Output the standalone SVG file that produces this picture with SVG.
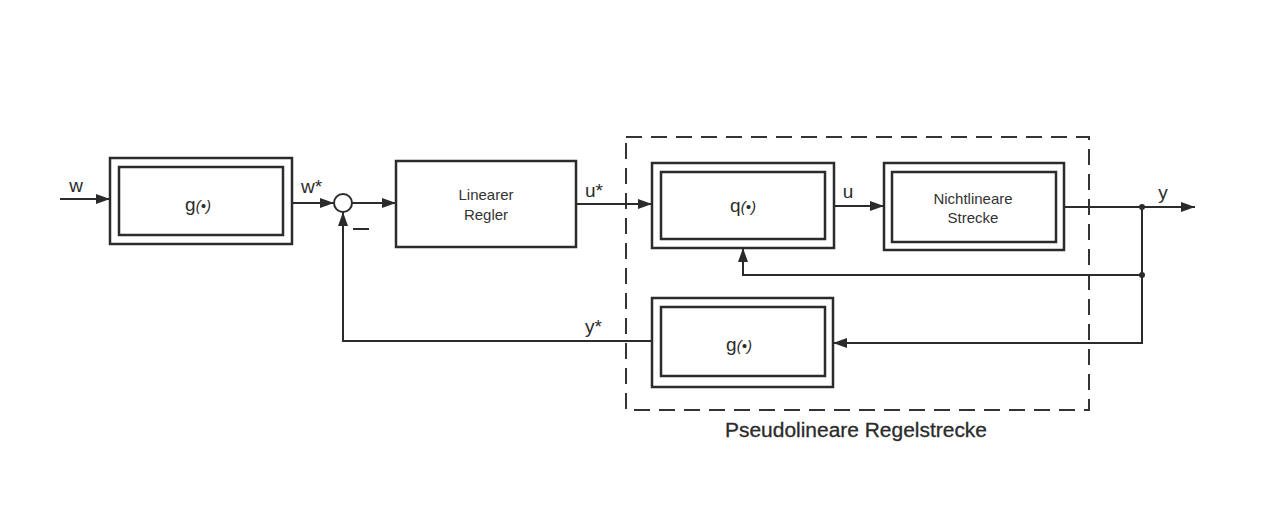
<svg xmlns="http://www.w3.org/2000/svg" width="1263" height="524" viewBox="0 0 1263 524">
<style>
  .box { fill: none; stroke: #2b2b2b; stroke-width: 2.5; }
  .line { fill: none; stroke: #2b2b2b; stroke-width: 2; }
  .dash { fill: none; stroke: #333; stroke-width: 2; stroke-dasharray: 16 9; }
  .lbl { font-family: "Liberation Sans", Arial, sans-serif; font-size: 19px; fill: #2b2b2b; }
  .txt { font-family: "Liberation Sans", Arial, sans-serif; font-size: 15px; fill: #333; text-anchor: middle; }
  .fn { font-family: "Liberation Sans", Arial, sans-serif; font-size: 19px; fill: #2b2b2b; text-anchor: middle; }
  .arg { font-size: 15px; font-style: italic; }
</style>
<defs>
  <marker id="arr" markerUnits="userSpaceOnUse" markerWidth="15" markerHeight="10" refX="14" refY="5" orient="auto">
    <path d="M0,0 L14,5 L0,10 z" fill="#2b2b2b"/>
  </marker>
</defs>
<rect width="1263" height="524" fill="#ffffff"/>

<g id="plant-boundary">
  <rect class="dash" x="626" y="137" width="463" height="273"/>
  <text x="856" y="437" font-family="Liberation Sans, Arial, sans-serif" font-size="20" fill="#2b2b2b" stroke="#2b2b2b" stroke-width="0.3" text-anchor="middle" textLength="262" lengthAdjust="spacingAndGlyphs">Pseudolineare Regelstrecke</text>
</g>

<g id="g-input">
  <rect class="box" x="110" y="158" width="182" height="86"/>
  <rect class="box" x="119" y="167" width="164" height="68"/>
  <text class="fn" x="198" y="211">g<tspan class="arg">(•)</tspan></text>
</g>

<g id="sum">
  <circle cx="343" cy="203" r="9" fill="#fff" stroke="#2b2b2b" stroke-width="2"/>
  <line class="line" x1="353" y1="229" x2="369" y2="229"/>
</g>

<g id="regler">
  <rect class="box" x="396" y="161" width="180" height="86"/>
  <text class="txt" x="486" y="200">Linearer</text>
  <text class="txt" x="486" y="220">Regler</text>
</g>

<g id="q-block">
  <rect class="box" x="652" y="163" width="182" height="85"/>
  <rect class="box" x="661" y="172" width="164" height="67"/>
  <text class="fn" x="743" y="212">q<tspan class="arg">(•)</tspan></text>
</g>

<g id="strecke">
  <rect class="box" x="884" y="163" width="180" height="87"/>
  <rect class="box" x="892" y="172" width="164" height="70"/>
  <text class="txt" x="973" y="204">Nichtlineare</text>
  <text class="txt" x="973" y="223">Strecke</text>
</g>

<g id="g-feedback">
  <rect class="box" x="652" y="298" width="181" height="89"/>
  <rect class="box" x="661" y="307" width="164" height="69"/>
  <text class="fn" x="739" y="351">g<tspan class="arg">(•)</tspan></text>
</g>

<g id="connectors">
  <path class="line" d="M60,199 H110" marker-end="url(#arr)"/>
  <path class="line" d="M292,203 H334" marker-end="url(#arr)"/>
  <path class="line" d="M352,203 H396" marker-end="url(#arr)"/>
  <path class="line" d="M576,204 H652" marker-end="url(#arr)"/>
  <path class="line" d="M834,206 H884" marker-end="url(#arr)"/>
  <path class="line" d="M1064,207 H1195" marker-end="url(#arr)"/>
  <path class="line" d="M1142,207 V343 H833" marker-end="url(#arr)"/>
  <path class="line" d="M1142,275 H743 V248" marker-end="url(#arr)"/>
  <path class="line" d="M652,341 H343 V212" marker-end="url(#arr)"/>
  <circle cx="1142" cy="207" r="3" fill="#2b2b2b"/>
  <circle cx="1142" cy="275" r="3" fill="#2b2b2b"/>
</g>

<g id="labels">
  <text class="lbl" x="76" y="192" text-anchor="middle">w</text>
  <text class="lbl" x="301" y="193">w*</text>
  <text class="lbl" x="585" y="197">u*</text>
  <text class="lbl" x="848" y="198" text-anchor="middle">u</text>
  <text class="lbl" x="1163" y="199" text-anchor="middle">y</text>
  <text class="lbl" x="585" y="333">y*</text>
</g>
</svg>
